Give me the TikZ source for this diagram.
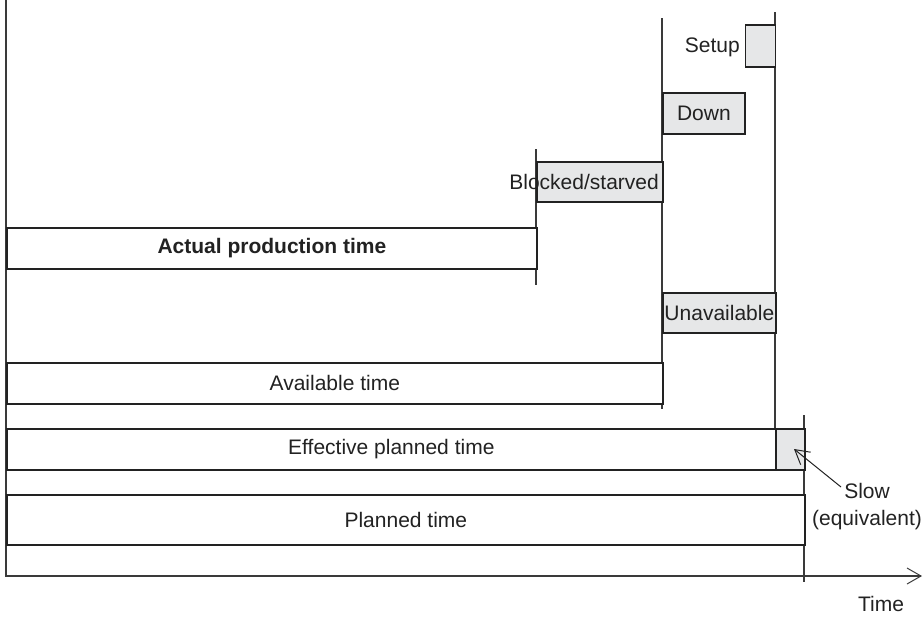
\documentclass[tikz,border=0pt]{standalone}
\usepackage{fontspec}
\setmainfont{Liberation Sans}
\usetikzlibrary{arrows.meta}
\definecolor{ink}{HTML}{222222}
\definecolor{guide}{HTML}{3A3A3A}
\definecolor{shade}{HTML}{E6E7E8}
\begin{document}
\begin{tikzpicture}[x=1pt,y=-1pt,
  every node/.style={font=\fontsize{21}{25}\selectfont, text=ink, inner sep=0pt},
  bar/.style={draw=ink, line width=1.7pt, fill=white, rectangle, anchor=north west},
  loss/.style={bar, fill=shade},
  timemark/.style={draw=guide, line width=1.2pt},
  barb/.style={-{Straight Barb[length=14pt,width=16pt,line width=1pt]}}]
\useasboundingbox (0,0) rectangle (924,616);

% time marks
\draw[timemark] (6,0) -- (6,577);
\draw[timemark] (536,149) -- (536,285);
\draw[timemark] (662,18) -- (662,409);
\draw[timemark] (775,12) -- (775,428);
\draw[timemark] (804,415) -- (804,582);

% time axis
\coordinate (t0) at (6,576);
\coordinate (t1) at (922,576);
\draw[timemark, barb] (t0) -- (t1);
\node (time) at (881,604) {Time};

% losses
\node[loss, minimum width=30pt, minimum height=42pt] (setup) at (744.5,24) {};
\node[anchor=east] (setuplbl) at (740,47) {Setup};
\node[loss, minimum width=82pt, minimum height=41pt] (down) at (662,92) {Down};
\node[loss, minimum width=126pt, minimum height=40pt] (blocked) at (536,161) {};
\node[anchor=east] (blockedlbl) at (659,182) {Blocked/starved};
\node[loss, minimum width=113pt, minimum height=40pt] (unavail) at (662,292) {Unavailable};

% time bars
\node[bar, minimum width=530pt, minimum height=41pt, font=\fontsize{21}{25}\selectfont\bfseries] (actual) at (6,227) {Actual production time};
\node[bar, minimum width=656pt, minimum height=41pt] (avail) at (6,362) {Available time};
\node[bar, minimum width=769pt, minimum height=41pt] (eff) at (6,428) {Effective planned time};
\node[loss, minimum width=29pt, minimum height=41pt] (slow) at (775,428) {};
\node[bar, minimum width=798pt, minimum height=50pt] (plan) at (6,494) {Planned time};

% slow label and pointer
\node[align=center] (slowlbl) at (867,507) {Slow\\[2pt](equivalent)};
\coordinate (slowfrom) at (841,487);
\coordinate (slowtip) at (794,449);
\draw[draw=ink, line width=1pt, barb] (slowfrom) -- (slowtip);
\end{tikzpicture}
\end{document}
